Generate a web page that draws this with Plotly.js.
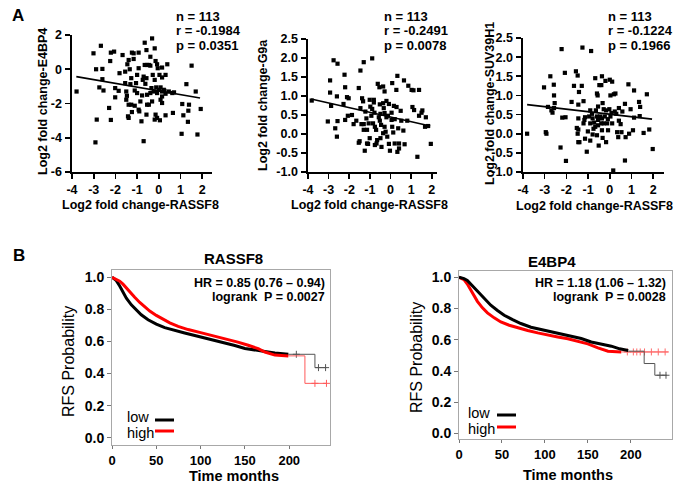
<!DOCTYPE html>
<html>
<head>
<meta charset="utf-8">
<script src="https://cdn.plot.ly/plotly-3.0.1.min.js"></script>
<style>html,body{margin:0;padding:0;background:#fff;}#chart{width:680px;height:485px;}</style>
</head>
<body>
<div id="chart"></div>
<script>
// ---------- Panel A data: Log2 fold change (n = 113 each) ----------
const rassf8_E4BP4 = [-3.79,-3.01,-2.67,-2.89,-2.60,-2.74,-2.60,-2.55,-2.86,-2.92,
  -2.21,-2.06,-2.24,-2.29,-2.21,-2.01,-2.01,-1.81,-1.67,-1.45,
  -1.55,-1.50,-1.47,-1.39,-1.34,-1.24,-1.16,-1.16,-0.93,-1.27,
  -1.31,-1.50,-1.39,-1.27,-1.42,-1.39,-1.24,-1.11,-1.05,-1.00,
  -1.00,-0.93,-0.90,-0.85,-0.80,-0.70,-0.65,-0.57,-0.65,-0.70,
  -0.74,-0.57,-0.62,-0.54,-0.46,-0.39,-0.54,-0.46,-0.57,-0.31,
  -0.19,-0.28,-0.34,-0.23,-0.15,-0.08,-0.05,0.03,0.15,0.31,
  0.39,0.15,-0.12,-0.08,0.00,0.08,0.15,0.23,0.31,0.26,
  0.15,0.08,0.15,-0.15,-0.08,0.05,-0.19,0.31,0.46,0.62,
  0.70,0.65,1.08,1.27,1.39,1.36,1.13,1.34,1.05,1.78,
  1.51,1.70,1.93,-0.39,-0.31,-0.54,-0.77,-1.55,-0.19,-0.39,
  -0.93,-1.85,-1.11];
const e4bp4 = [-1.30,0.93,1.37,0.00,0.02,-1.06,-0.58,-1.24,-2.94,-4.27,
  0.97,1.03,0.48,-2.26,-2.96,-1.10,-1.64,-0.23,0.83,0.29,
  -0.81,-1.30,-1.55,0.54,0.00,0.97,0.60,0.93,0.97,-0.52,
  -0.87,-1.78,-2.07,-2.07,-2.75,-2.84,-2.50,-1.24,-0.81,-0.33,
  -1.39,-2.36,-2.46,-1.88,-3.04,-4.20,1.55,1.12,0.25,-0.43,
  -0.62,-0.52,-0.85,0.25,0.25,0.21,-2.07,-2.07,-2.65,1.80,
  1.22,-0.33,-1.10,-1.30,0.48,0.29,0.06,-0.33,-0.48,-0.33,
  0.29,0.10,-1.06,-1.39,-1.20,-1.06,-1.30,-1.20,-1.43,-1.26,
  -1.59,-1.78,-1.97,-2.65,-2.84,-2.98,-2.94,-2.69,-1.30,-1.39,
  -1.35,-2.55,-2.03,-0.87,-2.07,-2.42,-2.69,-3.07,-3.77,-3.81,
  0.21,-1.30,-2.32,-1.39,-1.88,-1.49,-1.53,-0.14,-0.62,0.73,
  0.06,-1.26,-2.13];
const fitE4BP4X = [-3.8, 1.9];
const fitE4BP4Y = [-0.43, -1.68];

const rassf8_G9a = [-3.82,-3.04,-2.93,-2.93,-2.88,-2.76,-2.57,-2.68,-2.60,-2.60,
  -2.57,-2.28,-2.23,-2.20,-2.03,-2.11,-2.07,-1.87,-1.66,-1.54,
  -1.46,-1.30,-0.89,-1.46,-1.38,-1.33,-1.41,-1.50,-1.54,-1.30,
  -1.22,-1.17,-1.30,-1.14,-1.25,-1.09,-1.01,-0.98,-0.89,-0.93,
  -1.06,-1.01,-0.81,-0.78,-0.85,-0.76,-0.70,-0.68,-0.76,-0.81,
  -0.62,-0.54,-0.52,-0.49,-0.57,-0.52,-0.46,-0.49,-0.44,-0.36,
  -0.29,-0.36,-0.33,-0.29,-0.20,-0.20,-0.29,-0.24,-0.16,-0.08,
  -0.13,-0.08,-0.03,0.08,0.05,0.05,0.16,0.20,0.13,0.20,
  0.28,0.33,0.29,0.37,0.41,0.33,0.41,0.49,0.52,0.62,
  0.68,0.65,0.86,1.02,1.06,1.14,1.11,1.38,1.30,1.50,
  1.54,1.71,1.67,1.82,1.95,1.38,0.81,-0.65,-0.36,0.08,
  -1.14,-2.20,-1.79];
const g9a = [0.88,0.33,1.41,1.09,0.74,1.94,1.85,0.15,-0.07,0.99,
  0.34,0.79,1.56,1.23,0.94,0.97,0.48,0.50,0.35,1.21,
  1.67,1.89,1.99,0.68,0.94,0.86,0.26,-0.19,-0.23,0.26,
  0.59,0.41,0.11,-0.25,-0.44,-0.26,0.90,0.72,0.66,0.48,
  0.28,-0.11,0.90,0.56,0.28,0.19,0.11,-0.25,-0.29,0.83,
  1.32,1.23,0.78,0.53,0.44,0.35,0.24,-0.11,-0.34,1.25,
  1.12,0.81,0.68,0.55,0.87,0.44,0.19,0.06,-0.07,0.79,
  0.48,-0.26,-0.44,1.34,0.56,0.37,0.74,0.39,0.04,-0.25,
  1.16,1.53,0.71,0.15,-0.25,-0.47,-0.38,0.61,0.35,0.09,
  -0.27,1.41,1.27,1.16,0.71,0.63,1.15,1.16,-0.60,0.56,
  0.62,0.44,0.19,0.21,-0.26,0.48,0.35,-0.16,0.02,0.19,
  0.11,0.37,0.26];
const fitG9aX = [-3.85, 1.92];
const fitG9aY = [0.92, 0.21];

const rassf8_SUV = [-3.81,-3.03,-2.95,-2.92,-2.85,-2.74,-2.69,-2.64,-2.58,-2.57,
  -2.54,-2.27,-2.22,-2.19,-2.07,-2.04,-2.02,-1.76,-1.65,-1.56,
  -1.48,-1.42,-1.45,-1.52,-1.45,-1.48,-1.45,-1.29,-1.26,-1.21,
  -1.17,-1.14,-1.40,-1.14,-1.21,-0.86,-0.95,-0.90,-1.01,-0.90,
  -1.06,-0.82,-0.79,-0.75,-0.72,-0.67,-0.59,-0.56,-0.64,-0.59,
  -0.54,-0.54,-0.59,-0.51,-0.48,-0.39,-0.36,-0.33,-0.39,-0.36,
  -0.33,-0.44,-0.20,-0.17,-0.23,-0.12,-0.08,-0.17,0.00,0.03,
  -0.02,0.03,0.11,0.08,0.11,0.19,0.26,0.16,0.23,0.30,
  0.34,0.39,0.42,0.50,0.54,0.58,0.70,0.70,0.86,0.73,
  0.96,1.07,1.12,1.12,1.35,1.40,1.38,1.56,1.71,1.82,
  1.98,-0.54,-0.90,-0.67,-0.28,-0.09,-0.36,-0.79,-0.28,-1.45,
  0.42,0.89,-2.57];
const suv39h1 = [0.00,1.21,0.04,0.00,0.70,1.50,0.61,0.55,1.28,1.00,
  0.80,-0.36,2.21,0.42,1.59,0.43,-0.71,0.83,1.25,1.63,
  1.52,1.09,0.76,0.15,0.11,0.00,-0.22,1.25,2.25,0.27,
  0.36,-0.13,-0.22,0.43,0.85,2.16,0.45,0.27,0.06,-0.18,
  -0.47,0.52,0.40,0.13,0.29,1.45,1.05,1.00,0.61,0.45,
  0.36,0.22,-0.04,-0.31,1.27,1.27,1.50,0.80,0.27,0.09,
  -0.11,0.45,1.38,0.61,0.45,0.27,0.09,-0.22,1.41,1.00,
  0.64,0.45,0.27,0.54,1.36,1.03,1.05,-0.96,0.58,0.52,
  0.04,-0.09,0.34,0.25,0.04,0.58,0.78,-0.70,1.29,-0.09,
  0.64,0.09,0.42,1.13,0.83,0.70,0.46,0.02,1.03,0.11,
  -0.40,0.71,0.61,0.18,0.27,0.38,0.40,-0.02,0.64,0.40,
  0.67,0.00,0.67];
const fitSUVX = [-3.81, 1.95];
const fitSUVY = [0.76, 0.38];

const scXTicks = [-4,-3,-2,-1,0,1,2];
const scXLabels = ['-4','-3','-2','-1','0','1','2'];
const e4YTicks = [-6,-4,-2,0,2];
const e4YLabels = ['-6','-4','-2','0','2'];
const halfYTicks = [-1,-0.5,0,0.5,1,1.5,2,2.5];
const halfYLabels = ['-1.0','-0.5','0.0','0.5','1.0','1.5','2.0','2.5'];

const statsE4 = ['n = 113','r = -0.1984','p = 0.0351'];
const statsG9 = ['n = 113','r = -0.2491','p = 0.0078'];
const statsSUV = ['n = 113','r = -0.1224','p = 0.1966'];

// ---------- Panel B data: Kaplan-Meier RFS ----------
const rasLowT = [0,4.9,8.7,12.4,16.2,21.8,27.5,33,40.7,50,59.5,70.8,82,93.4,104.7,116,127,138.6,150,161,172.5,183.8,199];
const rasLowS = [1.0,0.979,0.945,0.903,0.869,0.828,0.795,0.766,0.735,0.708,0.686,0.668,0.653,0.637,0.622,0.606,0.591,0.575,0.556,0.545,0.538,0.528,0.520];
const rasLowTailT = [199,229,242];
const rasLowTailS = [0.520,0.437,0.437];
const rasLowCensT = [208,233,241];
const rasLowCensS = [0.520,0.437,0.437];
const rasHighT = [0,4.9,8.7,12.4,16.2,20,25.6,31.3,36.9,42.6,50,57.6,65.2,74.6,85.9,100,108.5,119.8,131,142,153.7,165,172.5,183.8,199];
const rasHighS = [1.0,0.988,0.975,0.957,0.933,0.907,0.875,0.843,0.814,0.789,0.762,0.738,0.716,0.694,0.674,0.655,0.644,0.628,0.611,0.596,0.576,0.555,0.534,0.515,0.510];
const rasHighTailT = [199,217.7,242];
const rasHighTailS = [0.510,0.339,0.339];
const rasHighCensT = [229,242];
const rasHighCensS = [0.339,0.339];

const e4LowT = [0,5.8,9.7,13.6,19.5,25.3,31.2,37,44.8,52.6,62.4,72,83.8,95.5,107,119,130.6,142.3,154,165.7,177.4,187,197];
const e4LowS = [1.0,0.991,0.979,0.957,0.921,0.885,0.851,0.821,0.787,0.757,0.729,0.704,0.680,0.665,0.650,0.638,0.623,0.608,0.586,0.574,0.559,0.542,0.531];
const e4LowTailT = [197,215.6,228,242];
const e4LowTailS = [0.527,0.448,0.373,0.373];
const e4LowCensT = [234,241];
const e4LowCensS = [0.373,0.373];
const e4HighT = [0,5.8,9.7,13.6,17.5,21.4,27.3,33.1,41,48.7,58.5,68.2,80,91.6,103.3,115,126.7,138.4,150,161.8,173.5,189];
const e4HighS = [1.0,0.985,0.957,0.921,0.878,0.846,0.804,0.772,0.740,0.714,0.693,0.676,0.659,0.644,0.633,0.618,0.606,0.591,0.574,0.548,0.527,0.522];
const e4HighTailT = [189,244];
const e4HighTailS = [0.522,0.522];
const e4HighCensT = [196,203,207,211,216,224,232,240];
const e4HighCensS = [0.522,0.522,0.522,0.522,0.522,0.522,0.522,0.522];

const kmXTicks = [0,50,100,150,200];
const kmYTicks = [0,0.2,0.4,0.6,0.8,1.0];
const kmYLabels = ['0.0','0.2','0.4','0.6','0.8','1.0'];

// ---------- helpers ----------
const W = 680, H = 485;
const px = v => v / W;
const py = v => 1 - v / H;
const FONT = 'Arial, "Liberation Sans", sans-serif';
const bold = (s) => ({family: FONT, size: s, color: '#000', weight: 700});
const reg = (s) => ({family: FONT, size: s, color: '#000'});

function scAxisX(dom, rng, anchor) {
  return {domain: [px(dom[0]), px(dom[1])], range: rng, anchor: anchor,
    showline: true, linecolor: '#000', linewidth: 1.6, ticks: 'outside', ticklen: 5,
    tickwidth: 1.6, tickcolor: '#000', tickvals: scXTicks, ticktext: scXLabels,
    tickfont: bold(12.5), showgrid: false, zeroline: false, fixedrange: true};
}
function scAxisY(dom, rng, anchor, tv, tt) {
  return {domain: [py(dom[1]), py(dom[0])], range: rng, anchor: anchor,
    showline: true, linecolor: '#000', linewidth: 1.6, ticks: 'outside', ticklen: 5,
    tickwidth: 1.6, tickcolor: '#000', tickvals: tv, ticktext: tt, ticklabelstandoff: 1,
    tickfont: bold(12.5), showgrid: false, zeroline: false, fixedrange: true};
}
function kmAxisX(dom, rng, anchor) {
  return {domain: [px(dom[0]), px(dom[1])], range: rng, anchor: anchor,
    showline: true, mirror: true, linecolor: '#a8a8a8', linewidth: 1, ticks: 'outside',
    ticklen: 3, tickwidth: 1, tickcolor: '#777', tickvals: kmXTicks,
    tickfont: bold(13), showgrid: false, zeroline: false, fixedrange: true};
}
function kmAxisY(dom, rng, anchor) {
  return {domain: [py(dom[1]), py(dom[0])], range: rng, anchor: anchor,
    showline: true, mirror: true, linecolor: '#a8a8a8', linewidth: 1, ticks: 'outside',
    ticklen: 4, tickwidth: 1, tickcolor: '#777', tickvals: kmYTicks, ticktext: kmYLabels,
    tickfont: bold(14), showgrid: false, zeroline: false, fixedrange: true};
}

const traces = [];
function scatterPanel(xs, ys, fx, fy, xa, ya) {
  traces.push({x: xs, y: ys, xaxis: xa, yaxis: ya, type: 'scatter', mode: 'markers',
    marker: {symbol: 'square', size: 4.2, color: '#000'}, showlegend: false, hoverinfo: 'skip'});
  traces.push({x: fx, y: fy, xaxis: xa, yaxis: ya, type: 'scatter', mode: 'lines',
    line: {color: '#000', width: 1.7}, showlegend: false, hoverinfo: 'skip'});
}
scatterPanel(rassf8_E4BP4, e4bp4, fitE4BP4X, fitE4BP4Y, 'x', 'y');
scatterPanel(rassf8_G9a, g9a, fitG9aX, fitG9aY, 'x2', 'y2');
scatterPanel(rassf8_SUV, suv39h1, fitSUVX, fitSUVY, 'x3', 'y3');

function kmCurve(t, s, tt, ts, ct, cs, color, tailColor, xa, ya) {
  traces.push({x: t, y: s, xaxis: xa, yaxis: ya, type: 'scatter', mode: 'lines',
    line: {color: color, width: 3}, showlegend: false, hoverinfo: 'skip'});
  traces.push({x: tt, y: ts, xaxis: xa, yaxis: ya, type: 'scatter', mode: 'lines',
    line: {color: tailColor, width: 1, shape: 'hv'}, showlegend: false, hoverinfo: 'skip'});
  traces.push({x: ct, y: cs, xaxis: xa, yaxis: ya, type: 'scatter', mode: 'markers',
    marker: {symbol: 'cross-thin', size: 5, line: {color: tailColor, width: 1}}, showlegend: false, hoverinfo: 'skip'});
}
kmCurve(rasLowT, rasLowS, rasLowTailT, rasLowTailS, rasLowCensT, rasLowCensS, '#000', '#555', 'x4', 'y4');
kmCurve(rasHighT, rasHighS, rasHighTailT, rasHighTailS, rasHighCensT, rasHighCensS, '#ff0000', '#ff5a5a', 'x4', 'y4');
kmCurve(e4HighT, e4HighS, e4HighTailT, e4HighTailS, e4HighCensT, e4HighCensS, '#ff0000', '#ff6a6a', 'x5', 'y5');
kmCurve(e4LowT, e4LowS, e4LowTailT, e4LowTailS, e4LowCensT, e4LowCensS, '#000', '#555', 'x5', 'y5');

function ann(text, x, y, font, xanchor, angle) {
  const a = {text: text, x: px(x), y: py(y), xref: 'paper', yref: 'paper', showarrow: false,
    xanchor: xanchor || 'center', yanchor: 'middle', font: font, borderpad: 0};
  if (angle) a.textangle = angle;
  return a;
}
const anns = [];
anns.push(ann('A', 11, 16, bold(17), 'left'));
anns.push(ann('B', 12, 255, bold(17), 'left'));
const statY = [17, 31, 45];
[[statsE4, 175], [statsG9, 383], [statsSUV, 607]].forEach(([arr, x0]) => {
  arr.forEach((t, i) => anns.push(ann(t, x0, statY[i], bold(13), 'left')));
});
const xTitle = 'Log2 fold change-RASSF8';
anns.push(ann(xTitle, 140, 205, bold(12.5)));
anns.push(ann(xTitle, 370, 205, bold(12.5)));
anns.push(ann(xTitle, 594, 206, bold(12.5)));
anns.push(ann('Log2 fold change-E4BP4', 43, 102, bold(12.5), 'center', -90));
anns.push(ann('Log2 fold change-G9a', 263, 105, bold(12.5), 'center', -90));
anns.push(ann('Log2 fold change-SUV39H1', 490, 104, bold(12.5), 'center', -90));

anns.push(ann('RASSF8', 233, 258, bold(15)));
anns.push(ann('E4BP4', 552, 261, bold(15)));
anns.push(ann('HR = 0.85 (0.76 \u2013 0.94)', 326, 283, bold(12.5), 'right'));
anns.push(ann('logrank  P = 0.0027', 326, 297, bold(12.5), 'right'));
anns.push(ann('HR = 1.18 (1.06 \u2013 1.32)', 667, 283, bold(12.5), 'right'));
anns.push(ann('logrank  P = 0.0028', 667, 297, bold(12.5), 'right'));
anns.push(ann('RFS Probability', 68, 362, reg(16), 'center', -90));
anns.push(ann('RFS Probability', 416, 358, reg(16), 'center', -90));
anns.push(ann('Time months', 234, 476, bold(14.5)));
anns.push(ann('Time months', 568, 475, bold(14.5)));
anns.push(ann('low', 126, 417, reg(14.5), 'left'));
anns.push(ann('high', 126, 433, reg(14.5), 'left'));
anns.push(ann('low', 467, 413, reg(14.5), 'left'));
anns.push(ann('high', 467, 429, reg(14.5), 'left'));

const lg = (x0, x1, y, c) => ({type: 'line', xref: 'paper', yref: 'paper',
  x0: px(x0), x1: px(x1), y0: py(y), y1: py(y), line: {color: c, width: 3}});
const shapes = [lg(155, 174, 420, '#000'), lg(155, 174, 431, '#ff0000'),
  lg(497, 516, 415, '#000'), lg(497, 516, 427, '#ff0000')];

const layout = {
  width: W, height: H, margin: {l: 0, r: 0, t: 0, b: 0},
  paper_bgcolor: '#fff', plot_bgcolor: 'rgba(0,0,0,0)', showlegend: false,
  font: {family: FONT, color: '#000'},
  xaxis: scAxisX([72, 212], [-4, 2.45], 'y'),
  yaxis: scAxisY([35, 172], [-6, 2], 'x', e4YTicks, e4YLabels),
  xaxis2: scAxisX([308, 437], [-4, 2.25], 'y2'),
  yaxis2: scAxisY([39, 172], [-1, 2.5], 'x2', halfYTicks, halfYLabels),
  xaxis3: scAxisX([523, 664], [-4, 2.5], 'y3'),
  yaxis3: scAxisY([38, 172], [-1, 2.5], 'x3', halfYTicks, halfYLabels),
  xaxis4: kmAxisX([112, 330], [0, 246], 'y4'),
  yaxis4: kmAxisY([270, 445], [-0.045, 1.045], 'x4'),
  xaxis5: kmAxisX([459, 672], [0, 248], 'y5'),
  yaxis5: kmAxisY([271, 439], [-0.035, 1.04], 'x5'),
  annotations: anns, shapes: shapes
};
Plotly.newPlot('chart', traces, layout, {displayModeBar: false, staticPlot: true});
</script>
</body>
</html>
